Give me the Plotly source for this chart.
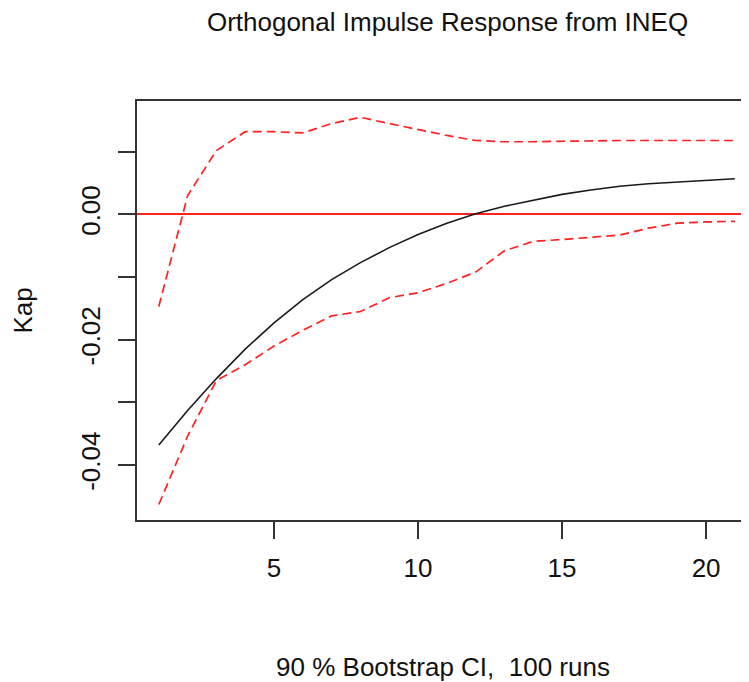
import plotly.graph_objects as go

# Horizont (Perioden) und Werte
horizon = list(range(1, 22))
irf = [-0.0368, -0.0313, -0.0262, -0.0215, -0.0173, -0.0136, -0.0104, -0.0077,
       -0.0053, -0.0032, -0.0014, 0.0001, 0.0013, 0.0023, 0.0032, 0.0039,
       0.0045, 0.0049, 0.0052, 0.0055, 0.0057]
upper = [-0.0147, 0.0030, 0.0102, 0.0132, 0.0132, 0.0130, 0.0145, 0.0155,
         0.0145, 0.0135, 0.0126, 0.0118, 0.0116, 0.0116, 0.0117, 0.0117,
         0.0118, 0.0118, 0.0118, 0.0118, 0.0118]
lower = [-0.0463, -0.0354, -0.0265, -0.0240, -0.0210, -0.0185, -0.0162, -0.0155,
         -0.0133, -0.0125, -0.0110, -0.0092, -0.0058, -0.0043, -0.0040, -0.0037,
         -0.0033, -0.0022, -0.0014, -0.0012, -0.0011]

y_ticks = [-0.04, -0.03, -0.02, -0.01, 0.0, 0.01]
y_ticktext = ['-0.04', '', '-0.02', '', '0.00', '']
x_ticks = [5, 10, 15, 20]

_FONT = 'Liberation Sans, Arial, Helvetica, sans-serif'
_AXIS = '#333333'
_RED = '#ff2020'

# die HTML-Seite hat 8px Body-Rand -> Figur entsprechend kleiner
W, H = 741, 674

fig = go.Figure()

fig.add_trace(go.Scatter(
    x=horizon, y=irf, mode='lines',
    line=dict(color='#1a1a1a', width=1.6),
    name='Kap', showlegend=False,
))
for band in (upper, lower):
    fig.add_trace(go.Scatter(
        x=horizon, y=band, mode='lines',
        line=dict(color=_RED, width=1.7, dash='9px,5px'),
        showlegend=False,
    ))

fig.update_layout(
    width=W, height=H,
    margin=dict(l=129, r=0, t=93, b=162),
    paper_bgcolor='white', plot_bgcolor='white',
    font=dict(family=_FONT, size=26, color='#111111'),
    title=dict(
        text='Orthogonal Impulse Response from INEQ',
        x=0.5074, xref='paper', xanchor='center',
        y=1 - 14 / H, yref='container', yanchor='middle',
        font=dict(size=26),
    ),
)

fig.update_xaxes(
    range=[0.243, 21.49],
    tickvals=x_ticks,
    ticks='outside', ticklen=17, tickwidth=1.5, tickcolor=_AXIS,
    ticklabelstandoff=7,
    showline=True, linecolor=_AXIS, linewidth=1.5, mirror=True,
    showgrid=False, zeroline=False, automargin=False,
    title=dict(text='90 % Bootstrap CI,  100 runs', standoff=79,
               font=dict(size=26)),
)
fig.update_yaxes(
    range=[-0.04877, 0.0181],
    tickvals=y_ticks, ticktext=y_ticktext, tickangle=-90,
    ticks='outside', ticklen=17, tickwidth=1.5, tickcolor=_AXIS,
    ticklabelstandoff=8,
    showline=True, linecolor=_AXIS, linewidth=1.5, mirror=False,
    showgrid=False, automargin=False,
    zeroline=True, zerolinecolor=_RED, zerolinewidth=1.5,
    title=dict(text='Kap', standoff=42, font=dict(size=26)),
)

fig.write_html("out.html")
